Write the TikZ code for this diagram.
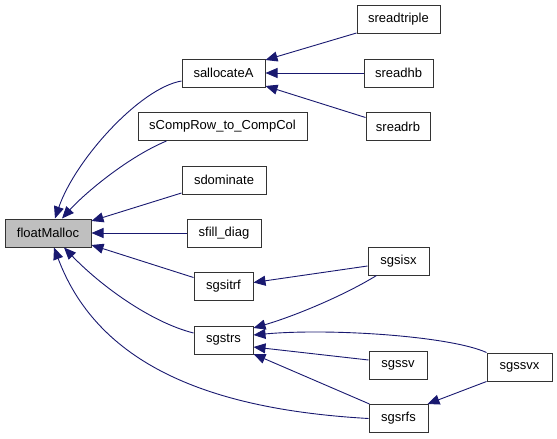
\documentclass[tikz,border=0pt]{standalone}
\usepackage{fontspec}
\setmainfont{Liberation Sans}
\usetikzlibrary{arrows.meta,calc}
\definecolor{edgeblue}{HTML}{191970}
\definecolor{rootfill}{HTML}{BFBFBF}
\begin{document}
\begin{tikzpicture}[x=1pt,y=-1pt,
  box/.style={draw=black!80, line width=1pt, rectangle, minimum height=28pt, inner sep=0pt, fill=white, font=\fontsize{13}{15}\selectfont},
  edge/.style={draw=edgeblue, line width=0.9pt, -{Triangle[length=12pt,width=10pt]}}]
\useasboundingbox (0,0) rectangle (557,439);
% nodes
\node[box, fill=rootfill, minimum width=86pt] (floatMalloc) at (48,233) {floatMalloc};
\node[box, minimum width=83pt] (sallocateA) at (223.5,73) {sallocateA};
\node[box, minimum width=169pt] (sCompRow) at (222.5,126.5) {sCompRow\_to\_CompCol};
\node[box, minimum width=84pt] (sdominate) at (224,180) {sdominate};
\node[box, minimum width=74pt] (sfilldiag) at (224,233) {sfill\_diag};
\node[box, minimum width=59pt] (sgsitrf) at (223.5,286.5) {sgsitrf};
\node[box, minimum width=59pt] (sgstrs) at (223.5,340) {sgstrs};
\node[box, minimum width=83pt] (sreadtriple) at (398.5,19.5) {sreadtriple};
\node[box, minimum width=69pt] (sreadhb) at (398.5,73) {sreadhb};
\node[box, minimum width=64pt] (sreadrb) at (398,126.5) {sreadrb};
\node[box, minimum width=61pt] (sgsisx) at (398.5,261) {sgsisx};
\node[box, minimum width=58pt] (sgssv) at (398,365) {sgssv};
\node[box, minimum width=65pt] (sgssvx) at (519.5,367) {sgssvx};
\node[box, minimum width=59pt] (sgsrfs) at (398.5,418.5) {sgsrfs};
% edges into floatMalloc
\draw[edge] ($(sallocateA.west)+(0,8)$) .. controls (140,88) and (75,160) .. ($(floatMalloc.north)+(7,0)$);
\draw[edge] ($(sCompRow.south west)+(29,0)$) .. controls (128,157) and (85,193) .. ($(floatMalloc.north)+(14,0)$);
\draw[edge] ($(sdominate.west)+(0,13)$) -- ($(floatMalloc.east)+(0,-12)$);
\draw[edge] (sfilldiag.west) -- (floatMalloc.east);
\draw[edge] ($(sgsitrf.west)+(0,-9)$) -- ($(floatMalloc.east)+(0,12)$);
\draw[edge] ($(sgstrs.west)+(0,-7)$) .. controls (150,322) and (100,285) .. ($(floatMalloc.south)+(16,0)$);
\draw[edge] (sgsrfs.west) .. controls (220,410) and (100,370) .. ($(floatMalloc.south)+(6,0)$);
% edges into sallocateA
\draw[edge] ($(sreadtriple.south west)+(0,-1)$) -- ($(sallocateA.east)+(0,-13)$);
\draw[edge] (sreadhb.west) -- (sallocateA.east);
\draw[edge] ($(sreadrb.west)+(0,-9)$) -- ($(sallocateA.east)+(0,13)$);
% edges into sgsitrf / sgstrs
\draw[edge] ($(sgsisx.west)+(0,5)$) -- ($(sgsitrf.east)+(0,-4)$);
\draw[edge] ($(sgsisx.south west)+(9,0)$) .. controls (345,295) and (295,316) .. ($(sgstrs.east)+(0,-12)$);
\draw[edge] (sgssvx.north west) .. controls (450,336) and (330,328) .. ($(sgstrs.east)+(0,-5)$);
\draw[edge] ($(sgssv.west)+(0,-5)$) -- ($(sgstrs.east)+(0,7)$);
\draw[edge] ($(sgsrfs.north west)+(1,0)$) -- ($(sgstrs.east)+(0,14)$);
% sgssvx -> sgsrfs
\draw[edge] (sgssvx.south west) -- ($(sgsrfs.north east)+(-1,0)$);
\end{tikzpicture}
\end{document}
